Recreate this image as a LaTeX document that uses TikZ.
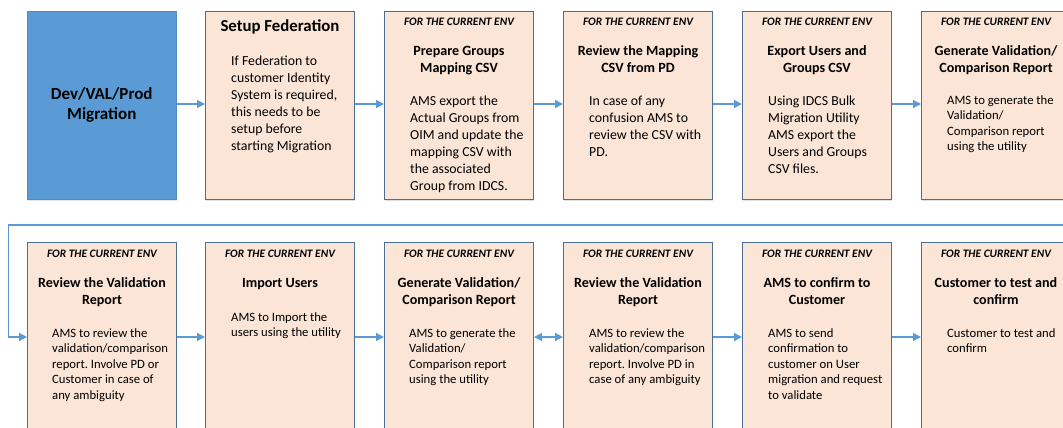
\documentclass[tikz,border=0pt]{standalone}
\usepackage{fontspec}
\setmainfont{Carlito}
\frenchspacing
\usetikzlibrary{arrows.meta,shadows}
\definecolor{peach}{HTML}{FBE5D6}
\definecolor{bord}{HTML}{4A6F96}
\definecolor{blu}{HTML}{5B9BD5}
\definecolor{arr}{HTML}{5B9BD5}
\tikzset{
  stepbox/.style={rectangle, draw=bord, fill=peach, line width=1pt, minimum width=149pt, minimum height=188pt, anchor=north west, inner sep=0pt, drop shadow={shadow xshift=0.8pt, shadow yshift=-1.5pt, opacity=0.25}},
  bluebox/.style={rectangle, draw=blu!90!black, fill=blu, line width=0.6pt, minimum width=149pt, minimum height=188pt, anchor=north west, inner sep=0pt, drop shadow={shadow xshift=0.8pt, shadow yshift=-1.5pt, opacity=0.2}},
  hdr/.style={font=\fontsize{11.4}{13}\selectfont\bfseries\itshape, anchor=base, inner sep=0pt},
  ttl/.style={font=\fontsize{14.1}{17}\selectfont\bfseries, align=center, anchor=north, inner sep=0pt},
  bodyA/.style={font=\fontsize{13.8}{17}\selectfont, align=left, anchor=north west, inner sep=0pt},
  bodyB/.style={font=\fontsize{12.7}{15.5}\selectfont, align=left, anchor=north west, inner sep=0pt},
  flow/.style={draw=arr, line width=1.4pt, -{Triangle[length=8pt,width=8pt]}},
  flowtwo/.style={draw=arr, line width=1.4pt, {Triangle[length=8pt,width=8pt]}-{Triangle[length=8pt,width=8pt]}},
}
\begin{document}
\begin{tikzpicture}[x=1pt,y=-1pt]
\useasboundingbox (0,0) rectangle (1063,428);
\clip (0,0) rectangle (1063,428);
% ---------- top row ----------
\node[bluebox] (t1) at (27,11) {};
\node[font=\fontsize{17}{20}\selectfont\bfseries, align=center] (t1txt) at (t1.center) {Dev/VAL/Prod\\Migration};

\node[stepbox] (t2) at (205,11) {};
\node[font=\fontsize{16.8}{18}\selectfont\bfseries, anchor=base, inner sep=0pt] (t2ttl) at (280,31.5) {Setup Federation};
\node[bodyA] (t2body) at (231,53) {\strut If Federation to\\customer Identity\\System is required,\\this needs to be\\setup before\\starting Migration};

\node[stepbox] (t3) at (384,11) {};
\node[hdr] (t3hdr) at (459,25.5) {FOR THE CURRENT ENV};
\node[ttl] (t3ttl) at (459,43.5) {\strut Prepare Groups\\Mapping CSV};
\node[bodyA] (t3body) at (410,93) {\strut AMS export the\\Actual Groups from\\OIM and update the\\mapping CSV with\\the associated\\Group from IDCS.};

\node[stepbox] (t4) at (563,11) {};
\node[hdr] (t4hdr) at (638,25.5) {FOR THE CURRENT ENV};
\node[ttl] (t4ttl) at (638,43.5) {\strut Review the Mapping\\CSV from PD};
\node[bodyA] (t4body) at (589,93) {\strut In case of any\\confusion AMS to\\review the CSV with\\PD.};

\node[stepbox] (t5) at (742,11) {};
\node[hdr] (t5hdr) at (817,25.5) {FOR THE CURRENT ENV};
\node[ttl] (t5ttl) at (817,43.5) {\strut Export Users and\\Groups CSV};
\node[bodyA] (t5body) at (768,93) {\strut Using IDCS Bulk\\Migration Utility\\AMS export the\\Users and Groups\\CSV files.};

\node[stepbox] (t6) at (921,11) {};
\node[hdr] (t6hdr) at (996,25.5) {FOR THE CURRENT ENV};
\node[ttl] (t6ttl) at (996,43.5) {\strut Generate Validation/\\Comparison Report};
\node[bodyB] (t6body) at (947,93) {\strut AMS to generate the\\Validation/\\Comparison report\\using the utility};

% ---------- bottom row ----------
\node[stepbox] (b1) at (27,242) {};
\node[hdr] (b1hdr) at (102,257.5) {FOR THE CURRENT ENV};
\node[ttl] (b1ttl) at (102,275.5) {\strut Review the Validation\\Report};
\node[bodyB] (b1body) at (52,326) {\strut AMS to review the\\validation/comparison\\report. Involve PD or\\Customer in case of\\any ambiguity};

\node[stepbox] (b2) at (205,242) {};
\node[hdr] (b2hdr) at (280,257.5) {FOR THE CURRENT ENV};
\node[ttl] (b2ttl) at (280,275.5) {\strut Import Users};
\node[bodyB] (b2body) at (231,310) {\strut AMS to Import the\\users using the utility};

\node[stepbox] (b3) at (384,242) {};
\node[hdr] (b3hdr) at (459,257.5) {FOR THE CURRENT ENV};
\node[ttl] (b3ttl) at (459,275.5) {\strut Generate Validation/\\Comparison Report};
\node[bodyB] (b3body) at (409,326) {\strut AMS to generate the\\Validation/\\Comparison report\\using the utility};

\node[stepbox] (b4) at (563,242) {};
\node[hdr] (b4hdr) at (638,257.5) {FOR THE CURRENT ENV};
\node[ttl] (b4ttl) at (638,275.5) {\strut Review the Validation\\Report};
\node[bodyB] (b4body) at (589,326) {\strut AMS to review the\\validation/comparison\\report. Involve PD in\\case of any ambiguity};

\node[stepbox] (b5) at (742,242) {};
\node[hdr] (b5hdr) at (817,257.5) {FOR THE CURRENT ENV};
\node[ttl] (b5ttl) at (817,275.5) {\strut AMS to confirm to\\Customer};
\node[bodyB] (b5body) at (768,326) {\strut AMS to send\\confirmation to\\customer on User\\migration and request\\to validate};

\node[stepbox] (b6) at (921,242) {};
\node[hdr] (b6hdr) at (996,257.5) {FOR THE CURRENT ENV};
\node[ttl] (b6ttl) at (996,275.5) {\strut Customer to test and\\confirm};
\node[bodyB] (b6body) at (947,326) {\strut Customer to test and\\confirm};

% ---------- connectors ----------
\coordinate (tr) at (0,104);
\coordinate (br) at (0,337);
\draw[flow] (t1.east |- tr) -- (t2.west |- tr);
\draw[flow] (t2.east |- tr) -- (t3.west |- tr);
\draw[flow] (t3.east |- tr) -- (t4.west |- tr);
\draw[flow] (t4.east |- tr) -- (t5.west |- tr);
\draw[flow] (t5.east |- tr) -- (t6.west |- tr);

\coordinate (wrapR) at (1075,225);
\coordinate (wrapL) at (8.5,225);
\draw[flow] (wrapR) -- (wrapL) |- (b1.west |- br);
\draw[flow] (b1.east |- br) -- (b2.west |- br);
\draw[flow] (b2.east |- br) -- (b3.west |- br);
\draw[flowtwo] (b3.east |- br) -- (b4.west |- br);
\draw[flow] (b4.east |- br) -- (b5.west |- br);
\draw[flow] (b5.east |- br) -- (b6.west |- br);
\end{tikzpicture}
\end{document}
